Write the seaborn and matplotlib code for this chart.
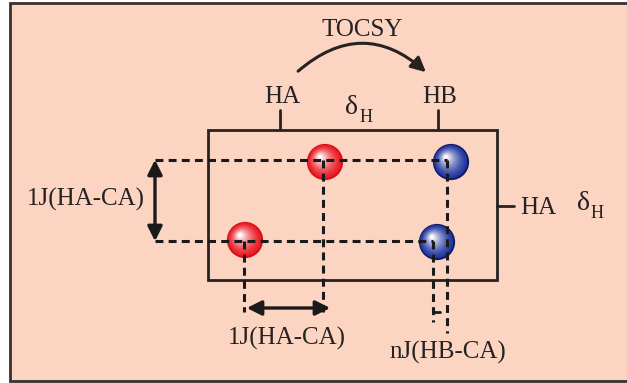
import numpy as np
import pandas as pd
import matplotlib.pyplot as plt
import seaborn as sns
from matplotlib.patches import Rectangle, FancyArrowPatch

# peak positions (figure pixel coords), colours
peak_x = [325, 245, 451, 437]
peak_y = [162, 240, 162, 242]
peak_kind = ['HA', 'HA', 'HB', 'HB']
peak_color = {'HA': (0.91, 0.10, 0.14), 'HB': (0.12, 0.20, 0.62)}
peak_edge = {'HA': (0.85, 0.05, 0.08), 'HB': (0.06, 0.10, 0.40)}

top_ticks = [280, 438]
top_labels = ['HA', 'HB']

sns.set_style('white')
plt.rcParams['font.family'] = ['Liberation Serif', 'DejaVu Serif']

bg = (0.99, 0.83, 0.76)
ink = '#262222'
fig = plt.figure(figsize=(6.27, 3.83), dpi=100)
ax = fig.add_axes([0, 0, 1, 1])
ax.set_xlim(0, 627)
ax.set_ylim(383, 0)
ax.axis('off')

ax.add_patch(Rectangle((10, 3), 630, 378, facecolor=bg, edgecolor='#3a3030', lw=2, zorder=0))
# spectrum box
ax.add_patch(Rectangle((208, 130), 289, 150, facecolor='none', edgecolor=ink, lw=2, zorder=2))

# top ticks and labels
for x, lab in zip(top_ticks, top_labels):
    ax.plot([x, x], [110, 130], color=ink, lw=2, zorder=2)
    ax.text(x + 2, 97, lab, fontsize=18, ha='center', va='center', color=ink)
ax.text(352, 107, 'δ', fontsize=20, ha='center', va='center', color=ink)
ax.text(366, 118, 'H', fontsize=13, ha='center', va='center', color=ink)

# right tick
ax.plot([497, 514], [206, 206], color=ink, lw=2, zorder=2)
ax.text(538, 208, 'HA', fontsize=18, ha='center', va='center', color=ink)
ax.text(583, 203, 'δ', fontsize=20, ha='center', va='center', color=ink)
ax.text(597, 213, 'H', fontsize=13, ha='center', va='center', color=ink)

# TOCSY arc
ax.text(362, 30, 'TOCSY', fontsize=18, ha='center', va='center', color=ink)
arc = FancyArrowPatch((296, 73), (428, 74), connectionstyle='arc3,rad=-0.45',
                      arrowstyle='-|>', mutation_scale=22, lw=2.2, color=ink)
ax.add_patch(arc)

# peaks as shaded spheres
df = pd.DataFrame({'x': peak_x, 'y': peak_y, 'kind': peak_kind})
sns.scatterplot(data=df, x='x', y='y', hue='kind', palette=peak_edge, s=680,
                edgecolor='none', legend=False, ax=ax, zorder=3)
n = 14
for i in range(1, n):
    t = i / (n - 1)
    for kind, grp in df.groupby('kind'):
        base = np.array(peak_color[kind])
        col = base * (1 - t ** 1.5) + np.ones(3) * t ** 1.5
        ax.scatter(grp['x'] - 5 * t, grp['y'] - 5 * t, s=660 * (1 - 0.9 * t) ** 2,
                   color=col, edgecolor='none', zorder=3)

# dashed guide lines
dash = dict(color='#1a1a1a', lw=2.2, ls=(0, (2.6, 1.7)), zorder=4)
ax.plot([155, 447], [160, 160], **dash)
ax.plot([155, 433], [241, 241], **dash)
ax.plot([447, 447], [160, 333], **dash)
ax.plot([433, 433], [241, 322], **dash)
ax.plot([433, 440], [312, 312], color='#1a1a1a', lw=2, zorder=4)
ax.plot([323, 323], [160, 312], **dash)
ax.plot([244, 244], [241, 312], **dash)

# coupling arrows
arrow = dict(arrowstyle='<|-|>', mutation_scale=22, lw=2.4, color='#1a1a1a')
ax.annotate('', xy=(155, 157), xytext=(155, 244), arrowprops=arrow)
ax.annotate('', xy=(244, 308), xytext=(333, 308), arrowprops=arrow)
ax.text(86, 199, '1J(HA-CA)', fontsize=18, ha='center', va='center', color=ink)
ax.text(287, 338, '1J(HA-CA)', fontsize=18, ha='center', va='center', color=ink)
ax.text(448, 352, 'nJ(HB-CA)', fontsize=18, ha='center', va='center', color=ink)

fig.savefig('out.png', dpi=100, facecolor='white')
